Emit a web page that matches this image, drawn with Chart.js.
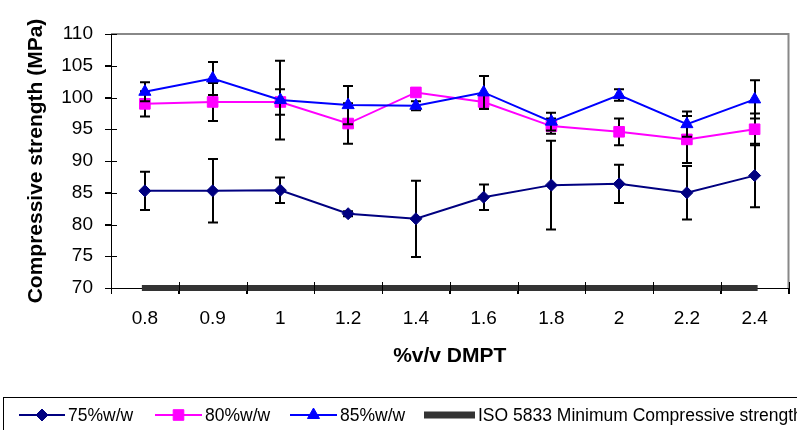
<!DOCTYPE html>
<html>
<head>
<meta charset="utf-8">
<script src="https://cdn.jsdelivr.net/npm/chart.js@4/dist/chart.umd.min.js"></script>
<style>
html,body{margin:0;padding:0;background:#fff;}
#wrap{width:797px;height:430px;position:relative;}
</style>
</head>
<body>
<div id="wrap"><canvas id="c" width="797" height="430"></canvas></div>
<script>
const categories = ['0.8','0.9','1','1.2','1.4','1.6','1.8','2','2.2','2.4'];
const s75 = [85.3, 85.3, 85.4, 81.7, 80.9, 84.3, 86.2, 86.4, 85.0, 87.7];
const e75 = [3.0, 5.0, 2.0, 0.4, 6.0, 2.0, 7.0, 3.0, 4.2, 5.0];
const s80 = [99.0, 99.3, 99.3, 95.9, 100.8, 99.3, 95.5, 94.6, 93.4, 95.0];
const e80 = [2.0, 3.0, 2.0, 3.2, 0.5, 1.0, 1.2, 2.1, 3.7, 2.5];
const s85 = [100.9, 103.0, 99.6, 98.8, 98.7, 100.8, 96.2, 100.4, 95.8, 99.7];
const e85 = [1.5, 2.6, 6.2, 3.0, 0.7, 2.6, 1.4, 0.9, 2.0, 3.0];
const iso = [70, 70, 70, 70, 70, 70, 70, 70, 70, 70];
const seriesNames = ['75%w/w', '80%w/w', '85%w/w', 'ISO 5833 Minimum Compressive strength'];
const yTicks = {min: 70, max: 110, step: 5};

const FONT = "'Liberation Sans', Arial, sans-serif";
const errs = [e75, e80, e85, null];

const errorBars = {
  id: 'errorBars',
  beforeDatasetDraw(chart, args) {
    const err = errs[args.index];
    if (!err) return;
    const ds = chart.data.datasets[args.index];
    const xs = chart.scales.x, ys = chart.scales.y;
    const ctx = chart.ctx;
    ctx.save();
    ctx.strokeStyle = '#000';
    ctx.lineWidth = 2;
    ds.data.forEach((v, i) => {
      const x = Math.round(xs.getPixelForValue(i));
      const yt = ys.getPixelForValue(v + err[i]);
      const yb = ys.getPixelForValue(v - err[i]);
      ctx.beginPath();
      ctx.moveTo(x, yt); ctx.lineTo(x, yb);
      ctx.moveTo(x - 5, yt); ctx.lineTo(x + 5, yt);
      ctx.moveTo(x - 5, yb); ctx.lineTo(x + 5, yb);
      ctx.stroke();
    });
    ctx.restore();
  }
};

const frame = {
  id: 'frame',
  beforeDatasetsDraw(chart) {
    const {left, right, top, bottom} = chart.chartArea;
    const ctx = chart.ctx;
    ctx.save();
    ctx.strokeStyle = '#888';
    ctx.lineWidth = 2;
    ctx.beginPath();
    ctx.moveTo(left, top); ctx.lineTo(right, top); ctx.lineTo(right, bottom);
    ctx.stroke();
    ctx.restore();
  },
  afterDatasetsDraw(chart) {
    // cross tick marks (inside part), drawn over the data like the original
    const {left, right, top, bottom} = chart.chartArea;
    const xs = chart.scales.x, ys = chart.scales.y;
    const ctx = chart.ctx;
    ctx.save();
    ctx.strokeStyle = '#000';
    ctx.lineWidth = 1;
    ctx.beginPath();
    const n = categories.length;
    for (let i = 0; i <= n; i++) {
      const x = Math.round(xs.getPixelForValue(i - 0.5)) + 0.5;
      ctx.moveTo(x, bottom - 6); ctx.lineTo(x, bottom + 6);
    }
    for (let v = yTicks.min; v <= yTicks.max; v += yTicks.step) {
      const y = Math.round(ys.getPixelForValue(v)) + 0.5;
      ctx.moveTo(left - 6, y); ctx.lineTo(left + 6, y);
    }
    ctx.stroke();
    ctx.restore();
  }
};

function drawMarker(ctx, style, x, y, r, color) {
  ctx.save();
  ctx.fillStyle = color; ctx.strokeStyle = color; ctx.lineWidth = 1;
  Chart.helpers.drawPoint(ctx, {pointStyle: style, radius: r, borderWidth: 1}, x, y);
  ctx.restore();
}

const legendBox = {
  id: 'legendBox',
  afterDraw(chart) {
    const ctx = chart.ctx;
    ctx.save();
    ctx.strokeStyle = '#000';
    ctx.lineWidth = 1;
    ctx.strokeRect(3.5, 397.5, 900, 100);
    const y = 415;
    const entries = [
      {x: 19, w: 46, color: '#000080', style: 'rectRot', r: 6, lw: 2},
      {x: 155, w: 47, color: '#FF00FF', style: 'rect', r: 7.5, lw: 2},
      {x: 290, w: 47, color: '#0000FF', style: 'triangle', r: 7, lw: 2},
      {x: 424, w: 51, color: '#333333', style: null, r: 0, lw: 7}
    ];
    ctx.font = '17.5px ' + FONT;
    ctx.textBaseline = 'middle';
    entries.forEach((e, i) => {
      ctx.strokeStyle = e.color;
      ctx.lineWidth = e.lw;
      ctx.beginPath();
      ctx.moveTo(e.x, y); ctx.lineTo(e.x + e.w, y);
      ctx.stroke();
      if (e.style) drawMarker(ctx, e.style, e.x + e.w / 2, y, e.r, e.color);
      ctx.fillStyle = '#000';
      ctx.fillText(seriesNames[i], e.x + e.w + 3, y + 1);
    });
    ctx.restore();
  }
};

new Chart(document.getElementById('c'), {
  type: 'line',
  data: {
    labels: categories,
    datasets: [
      {label: seriesNames[0], data: s75, borderColor: '#000080', backgroundColor: '#000080', borderWidth: 2,
       pointStyle: 'rectRot', pointRadius: 6, pointBorderWidth: 1, order: 2},
      {label: seriesNames[1], data: s80, borderColor: '#FF00FF', backgroundColor: '#FF00FF', borderWidth: 2,
       pointStyle: 'rect', pointRadius: 7.5, pointBorderWidth: 1, order: 1},
      {label: seriesNames[2], data: s85, borderColor: '#0000FF', backgroundColor: '#0000FF', borderWidth: 2,
       pointStyle: 'triangle', pointRadius: 7, pointBorderWidth: 1, order: 0},
      {label: seriesNames[3], data: iso, borderColor: '#333333', backgroundColor: '#333333', borderWidth: 6,
       borderCapStyle: 'square', pointRadius: 0, order: 3, clip: 10}
    ]
  },
  options: {
    responsive: false,
    animation: false,
    layout: {padding: {left: 0, top: 34, right: 5, bottom: 60}},
    plugins: {legend: {display: false}, tooltip: {enabled: false}},
    elements: {line: {tension: 0}},
    scales: {
      x: {
        type: 'category',
        offset: true,
        grid: {offset: true, drawOnChartArea: false, drawTicks: true, tickLength: 6, color: '#000'},
        border: {color: '#000', width: 1},
        ticks: {color: '#000', font: {family: FONT, size: 19}, padding: 13, maxRotation: 0, autoSkip: false},
        title: {display: true, text: '%v/v DMPT', color: '#000', font: {family: FONT, size: 21, weight: 'bold'}, padding: {top: 0, bottom: 1}},
        afterFit(s) { s.height = 82; }
      },
      y: {
        min: yTicks.min, max: yTicks.max,
        grid: {drawOnChartArea: false, drawTicks: true, tickLength: 6, color: '#000'},
        border: {color: '#000', width: 1},
        ticks: {stepSize: yTicks.step, color: '#000', font: {family: FONT, size: 19}, padding: 12},
        title: {display: true, text: 'Compressive strength (MPa)', color: '#000', font: {family: FONT, size: 21, weight: 'bold'}, padding: {top: 24, bottom: 0}},
        afterFit(s) { s.width = 111; }
      }
    }
  },
  plugins: [frame, errorBars, legendBox]
});
</script>
</body>
</html>
